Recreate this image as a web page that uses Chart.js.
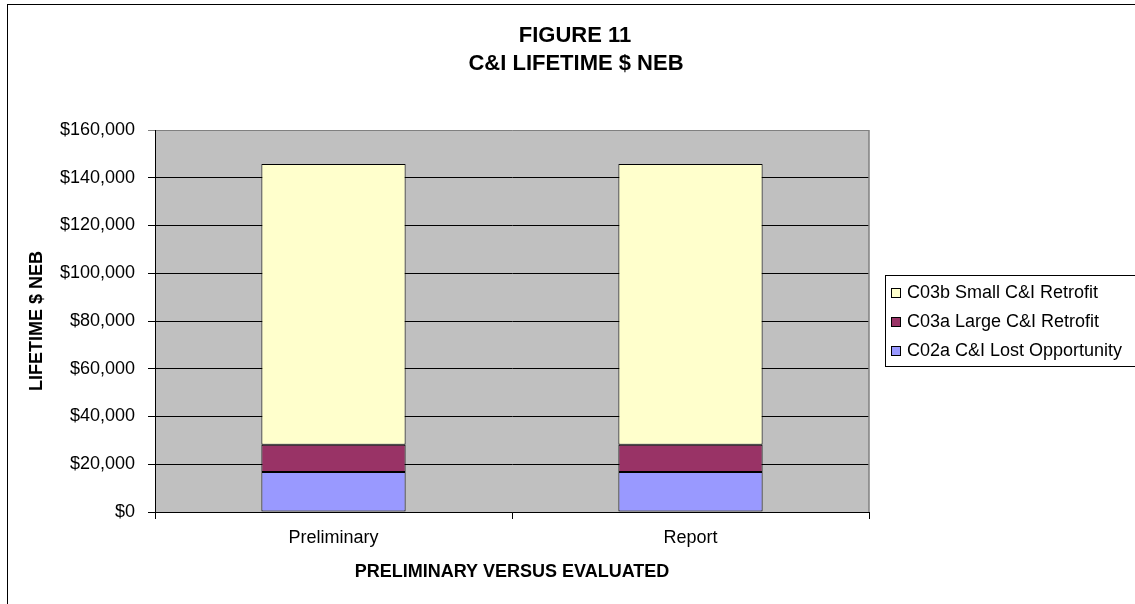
<!DOCTYPE html>
<html>
<head>
<meta charset="utf-8">
<script src="https://cdn.jsdelivr.net/npm/chart.js@4"></script>
<style>
  html, body { margin: 0; padding: 0; background: #fff; }
  #wrap { width: 1135px; height: 604px; position: relative; }
</style>
</head>
<body>
<div id="wrap"><canvas id="nebChart"></canvas></div>
<script>
// values
const categories = ['Preliminary', 'Report'];
const lostOpportunity = [16740, 16740];     // C02a C&I Lost Opportunity
const largeRetrofit = [11420, 11420];       // C03a Large C&I Retrofit
const smallRetrofit = [117600, 117600];     // C03b Small C&I Retrofit
const titleLines = ['FIGURE 11', 'C&I LIFETIME $ NEB'];

const FONT = "'Liberation Sans', Arial, sans-serif";

// grey plot background, outer frame, plot border
const framePlugin = {
  id: 'frame',
  beforeDraw(chart) {
    const {ctx, chartArea: a} = chart;
    ctx.save();
    ctx.fillStyle = '#c0c0c0';
    ctx.fillRect(a.left, a.top, a.right - a.left, a.bottom - a.top);
    ctx.restore();
  },
  afterDraw(chart) {
    const {ctx, chartArea: a} = chart;
    ctx.save();
    ctx.strokeStyle = '#808080';
    ctx.lineWidth = 1.5;
    ctx.beginPath();
    ctx.moveTo(a.right, a.top);
    ctx.lineTo(a.right, a.bottom);
    ctx.stroke();
    ctx.strokeStyle = '#000';
    ctx.lineWidth = 1;
    ctx.strokeRect(7.5, 4.5, 1200, 700);
    ctx.restore();
  }
};

// two-line title
const titlePlugin = {
  id: 'figTitle',
  afterDraw(chart) {
    const ctx = chart.ctx;
    ctx.save();
    ctx.font = 'bold 22px ' + FONT;
    ctx.fillStyle = '#000';
    ctx.textAlign = 'center';
    ctx.textBaseline = 'middle';
    ctx.fillText(titleLines[0], 575, 36);
    ctx.fillText(titleLines[1], 576, 64);
    ctx.restore();
  }
};

// boxed legend at right, top series first
const legendPlugin = {
  id: 'boxLegend',
  afterDraw(chart) {
    const ctx = chart.ctx;
    const sets = chart.data.datasets.slice().reverse();
    ctx.save();
    ctx.strokeStyle = '#000';
    ctx.lineWidth = 1;
    ctx.strokeRect(885.5, 275.5, 260, 91);
    ctx.font = '18px ' + FONT;
    ctx.textBaseline = 'middle';
    sets.forEach((ds, i) => {
      const y = 293 + i * 29;
      ctx.fillStyle = ds.backgroundColor;
      ctx.fillRect(891.5, y - 4.5, 9, 9);
      ctx.strokeRect(891.5, y - 4.5, 9, 9);
      ctx.fillStyle = '#000';
      ctx.fillText(ds.label, 907, y);
    });
    ctx.restore();
  }
};

new Chart(document.getElementById('nebChart'), {
  type: 'bar',
  data: {
    labels: categories,
    datasets: [
      { label: 'C02a C&I Lost Opportunity', data: lostOpportunity, backgroundColor: '#9999ff' },
      { label: 'C03a Large C&I Retrofit', data: largeRetrofit, backgroundColor: '#993366' },
      { label: 'C03b Small C&I Retrofit', data: smallRetrofit, backgroundColor: '#ffffcc' }
    ].map(d => Object.assign(d, {
      borderColor: '#000', borderWidth: 1, borderSkipped: false,
      categoryPercentage: 1, barPercentage: 0.404
    }))
  },
  options: {
    responsive: true,
    maintainAspectRatio: false,
    animation: false,
    layout: { padding: { top: 130, right: 266, left: 0, bottom: 0 } },
    plugins: {
      legend: { display: false },
      title: { display: false },
      tooltip: { enabled: false }
    },
    scales: {
      x: {
        stacked: true,
        grid: { offset: true, drawOnChartArea: false, color: '#000', tickLength: 7 },
        border: { color: '#000', width: 1 },
        ticks: { color: '#000', font: { family: FONT, size: 18 }, padding: 8 },
        title: {
          display: true, text: 'PRELIMINARY VERSUS EVALUATED', color: '#000',
          font: { family: FONT, size: 18, weight: 'bold' }, padding: { top: 0, bottom: 21 }
        },
        afterFit(scale) { scale.height = 92; }
      },
      y: {
        stacked: true,
        min: 0,
        max: 160000,
        grid: {
          color: ctx => ctx.tick && ctx.tick.value === 160000 ? '#808080' : '#000',
          lineWidth: 1, tickLength: 7
        },
        border: { color: '#000', width: 1 },
        ticks: {
          stepSize: 20000, color: '#000', padding: 13,
          font: { family: FONT, size: 18 },
          callback: v => '$' + v.toLocaleString('en-US')
        },
        title: {
          display: true, text: 'LIFETIME $ NEB', color: '#000',
          font: { family: FONT, size: 18, weight: 'bold' }, padding: { top: 26, bottom: 0 }
        },
        afterFit(scale) { scale.width = 155; }
      }
    }
  },
  plugins: [framePlugin, titlePlugin, legendPlugin]
});
</script>
</body>
</html>
